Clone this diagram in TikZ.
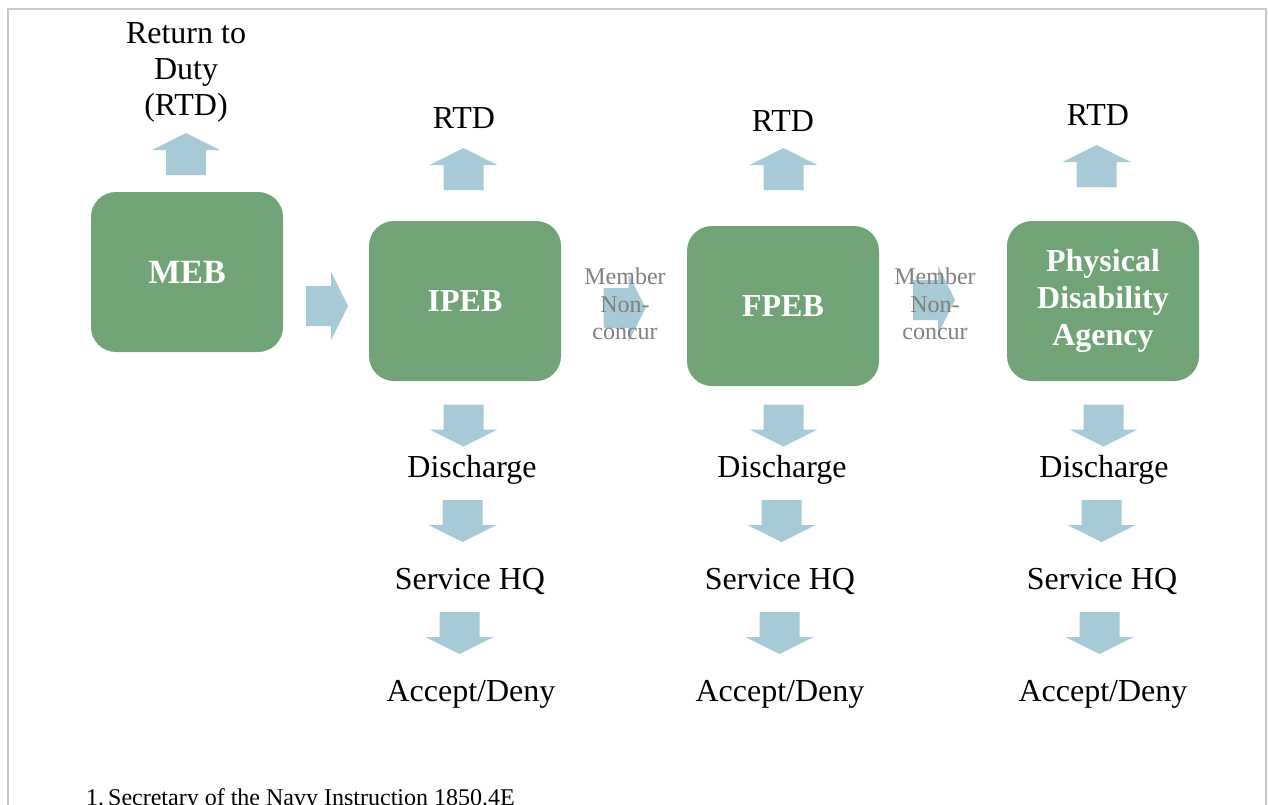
\documentclass[tikz,border=0pt]{standalone}
\usepackage{fontspec}
\setmainfont{Liberation Serif}
\definecolor{boxgreen}{RGB}{112,163,118}
\definecolor{arrowblue}{RGB}{166,203,214}
\definecolor{framegray}{RGB}{200,200,200}
\definecolor{notegray}{RGB}{128,128,128}
\tikzset{
  board/.style={draw=none, fill=boxgreen, rounded corners=25pt, minimum width=192pt, minimum height=160pt,
    text=white, font=\fontsize{32}{37}\selectfont\bfseries, align=center, inner sep=0pt},
  lbl/.style={font=\fontsize{32}{36}\selectfont, anchor=base, inner sep=0pt},
  note/.style={font=\fontsize{24}{27.5}\selectfont, text=notegray, align=center, inner sep=0pt},
  blockarrow/.pic={\fill[arrowblue] (-21,-20) -- (4,-20) -- (4,-34) -- (21,0) -- (4,34) -- (4,20) -- (-21,20) -- cycle;}
}
\begin{document}
\begin{tikzpicture}[x=1pt,y=-1pt]
\useasboundingbox (0,0) rectangle (1268,804);
\clip (0,0) rectangle (1268,804);
\fill[white] (0,0) rectangle (1268,804);
\draw[framegray, line width=2pt] (8,9) rectangle (1266,840);

% boxes
\node[board] (meb) at (187,272) {\fontsize{34}{37}\selectfont MEB};
\node[board] (ipeb) at (465,301) {IPEB};
\node[board] (fpeb) at (783,306) {FPEB};
\node[board] (pda) at (1103,301) {Physical\\Disability\\Agency};

% up arrows
\pic[rotate=90] (upM) at (186,154) {blockarrow};
\pic[rotate=90] (upI) at (463.5,169) {blockarrow};
\pic[rotate=90] (upF) at (783.5,169) {blockarrow};
\pic[rotate=90] (upP) at (1096.5,166) {blockarrow};

% right arrows
\pic (rA) at (327,306) {blockarrow};
\pic (rB) at (624.5,308) {blockarrow};
\pic (rC) at (934,300) {blockarrow};

% down arrows
\pic[rotate=-90] (dI1) at (463.5,425.5) {blockarrow};
\pic[rotate=-90] (dI2) at (462.5,521) {blockarrow};
\pic[rotate=-90] (dI3) at (459.5,633) {blockarrow};
\pic[rotate=-90] (dF1) at (783.5,425.5) {blockarrow};
\pic[rotate=-90] (dF2) at (781.5,521) {blockarrow};
\pic[rotate=-90] (dF3) at (779.5,633) {blockarrow};
\pic[rotate=-90] (dP1) at (1103.5,425.5) {blockarrow};
\pic[rotate=-90] (dP2) at (1101.5,521) {blockarrow};
\pic[rotate=-90] (dP3) at (1099.5,633) {blockarrow};

% labels
\node[font=\fontsize{32}{36}\selectfont, align=center, inner sep=0pt] (rtdM) at (186,72) {Return to\\Duty\\(RTD)};
\node[lbl] (rtdI) at (464,128) {RTD};
\node[lbl] (rtdF) at (783,131) {RTD};
\node[lbl] (rtdP) at (1098,125) {RTD};

\node[lbl] (disI) at (472,477) {Discharge};
\node[lbl] (disF) at (782,477) {Discharge};
\node[lbl] (disP) at (1104,477) {Discharge};
\node[lbl] (hqI) at (470,589) {Service HQ};
\node[lbl] (hqF) at (780,589) {Service HQ};
\node[lbl] (hqP) at (1102,589) {Service HQ};
\node[lbl] (adI) at (471,701) {Accept/Deny};
\node[lbl] (adF) at (780,701) {Accept/Deny};
\node[lbl] (adP) at (1103,701) {Accept/Deny};

\node[note] (ncA) at (625,304) {Member\\Non-\\concur};
\node[note] (ncB) at (935,304) {Member\\Non-\\concur};

\node[font=\fontsize{24}{26}\selectfont, anchor=base west, inner sep=0pt] (fn) at (86,805) {1.\,Secretary of the Navy Instruction 1850.4E};
\end{tikzpicture}
\end{document}
